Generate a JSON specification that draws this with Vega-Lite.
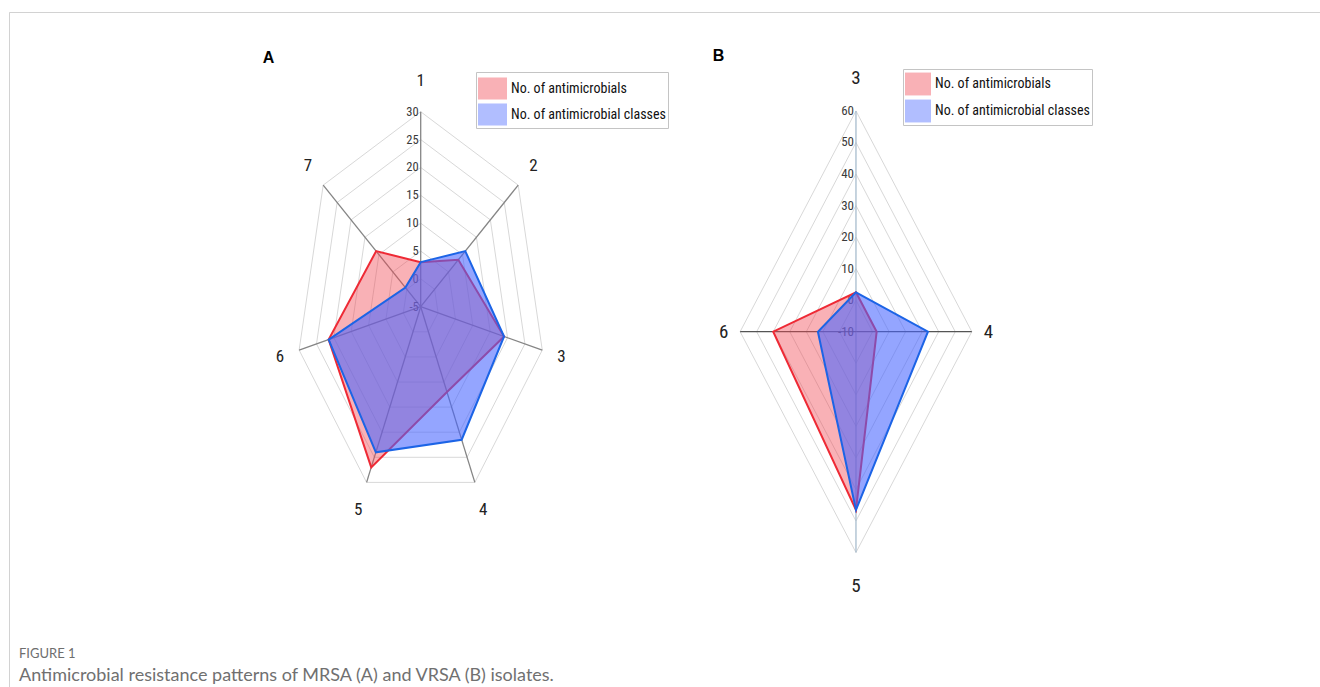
{
  "$schema": "https://vega.github.io/schema/vega-lite/v6.json",
  "width": 1311,
  "height": 675,
  "autosize": "none",
  "padding": {"left": 9, "top": 12, "right": 0, "bottom": 0},
  "background": "white",
  "config": {
    "view": {"stroke": "#d2d2d2", "strokeWidth": 1, "strokeDash": [1311, 1986, 675]}
  },
  "title": {
    "text": "FIGURE 1",
    "subtitle": "Antimicrobial resistance patterns of MRSA (A) and VRSA (B) isolates.",
    "orient": "bottom",
    "anchor": "start",
    "frame": "group",
    "offset": -39,
    "dx": 10,
    "font": "Lato",
    "fontSize": 13,
    "fontWeight": "normal",
    "color": "#6e6e6e",
    "subtitleFont": "Lato",
    "subtitleFontSize": 18,
    "subtitleColor": "#707070",
    "subtitlePadding": 6
  },
  "datasets": {
    "polyA": [
      {"series": "No. of antimicrobials", "k": 1, "value": 3},
      {"series": "No. of antimicrobials", "k": 2, "value": 8.5},
      {"series": "No. of antimicrobials", "k": 3, "value": 19},
      {"series": "No. of antimicrobials", "k": 4, "value": 12},
      {"series": "No. of antimicrobials", "k": 5, "value": 27},
      {"series": "No. of antimicrobials", "k": 6, "value": 21.5},
      {"series": "No. of antimicrobials", "k": 7, "value": 11},
      {"series": "No. of antimicrobial classes", "k": 1, "value": 3},
      {"series": "No. of antimicrobial classes", "k": 2, "value": 11},
      {"series": "No. of antimicrobial classes", "k": 3, "value": 19},
      {"series": "No. of antimicrobial classes", "k": 4, "value": 21.5},
      {"series": "No. of antimicrobial classes", "k": 5, "value": 24},
      {"series": "No. of antimicrobial classes", "k": 6, "value": 21.5},
      {"series": "No. of antimicrobial classes", "k": 7, "value": 0.5}
    ],
    "axesA": [
      {"k": 1, "name": "1"}, {"k": 2, "name": "2"}, {"k": 3, "name": "3"}, {"k": 4, "name": "4"},
      {"k": 5, "name": "5"}, {"k": 6, "name": "6"}, {"k": 7, "name": "7"}
    ],
    "ringsA": [
      {"level": -5, "k": [1, 2, 3, 4, 5, 6, 7]},
      {"level": 0, "k": [1, 2, 3, 4, 5, 6, 7]},
      {"level": 5, "k": [1, 2, 3, 4, 5, 6, 7]},
      {"level": 10, "k": [1, 2, 3, 4, 5, 6, 7]},
      {"level": 15, "k": [1, 2, 3, 4, 5, 6, 7]},
      {"level": 20, "k": [1, 2, 3, 4, 5, 6, 7]},
      {"level": 25, "k": [1, 2, 3, 4, 5, 6, 7]},
      {"level": 30, "k": [1, 2, 3, 4, 5, 6, 7]}
    ],
    "polyB": [
      {"series": "No. of antimicrobials", "k": 3, "value": 2.5},
      {"series": "No. of antimicrobials", "k": 4, "value": 2.5},
      {"series": "No. of antimicrobials", "k": 5, "value": 46.5},
      {"series": "No. of antimicrobials", "k": 6, "value": 40},
      {"series": "No. of antimicrobial classes", "k": 3, "value": 2.5},
      {"series": "No. of antimicrobial classes", "k": 4, "value": 33.5},
      {"series": "No. of antimicrobial classes", "k": 5, "value": 46.5},
      {"series": "No. of antimicrobial classes", "k": 6, "value": 13}
    ],
    "axesB": [
      {"k": 3, "name": "3"}, {"k": 4, "name": "4"}, {"k": 5, "name": "5"}, {"k": 6, "name": "6"}
    ],
    "ringsB": [
      {"level": -10, "k": [3, 4, 5, 6]},
      {"level": 0, "k": [3, 4, 5, 6]},
      {"level": 10, "k": [3, 4, 5, 6]},
      {"level": 20, "k": [3, 4, 5, 6]},
      {"level": 30, "k": [3, 4, 5, 6]},
      {"level": 40, "k": [3, 4, 5, 6]},
      {"level": 50, "k": [3, 4, 5, 6]},
      {"level": 60, "k": [3, 4, 5, 6]}
    ]
  },
  "layer": [
    {
      "encoding": {
        "x": {
          "field": "px", "type": "quantitative",
          "scale": {"domain": [-115.55, 252.4], "nice": false, "zero": false},
          "axis": {"orient": "top", "domain": false, "ticks": false, "labels": false, "grid": false,
            "title": "A", "titleX": 259, "titleY": 45, "titleAlign": "center", "titleBaseline": "middle",
            "titleFont": "Liberation Sans", "titleFontSize": 16, "titleFontWeight": "bold", "titleColor": "#000000"}
        },
        "y": {
          "field": "py", "type": "quantitative",
          "scale": {"domain": [-68.26, 52.9], "nice": false, "zero": false},
          "axis": null
        }
      },
      "layer": [
        {
          "data": {"name": "ringsA"},
          "transform": [
            {"filter": "datum.level > -5"},
            {"flatten": ["k"]},
            {"calculate": "2*PI*(datum.k-1)/7", "as": "theta"},
            {"calculate": "(datum.level+5)*sin(datum.theta)", "as": "px"},
            {"calculate": "(datum.level+5)*cos(datum.theta)", "as": "py"}
          ],
          "mark": {"type": "line", "interpolate": "linear-closed", "stroke": "#d8d8d8", "strokeWidth": 1},
          "encoding": {"detail": {"field": "level", "type": "nominal"}, "order": {"field": "k", "type": "quantitative"}}
        },
        {
          "data": {"name": "axesA"},
          "transform": [
            {"calculate": "2*PI*(datum.k-1)/7", "as": "theta"},
            {"calculate": "35*sin(datum.theta)", "as": "px"},
            {"calculate": "35*cos(datum.theta)", "as": "py"},
            {"calculate": "0", "as": "cx"},
            {"calculate": "0", "as": "cy"}
          ],
          "mark": {"type": "rule", "stroke": "#858585", "strokeWidth": 1.3},
          "encoding": {"x2": {"field": "cx"}, "y2": {"field": "cy"}}
        },
        {
          "data": {"name": "ringsA"},
          "transform": [
            {"calculate": "datum.level+5", "as": "py"},
            {"calculate": "0", "as": "px"}
          ],
          "mark": {"type": "text", "align": "right", "baseline": "middle", "dx": -2,
            "font": "Liberation Sans Narrow, Roboto Condensed, Arial Narrow, Roboto, sans-serif", "fontSize": 12.5, "fill": "#3a3a3a"},
          "encoding": {"text": {"field": "level", "type": "nominal"}}
        },
        {
          "data": {"name": "axesA"},
          "transform": [
            {"calculate": "2*PI*(datum.k-1)/7", "as": "theta"},
            {"calculate": "40.5*sin(datum.theta)", "as": "px"},
            {"calculate": "40.5*cos(datum.theta)", "as": "py"}
          ],
          "mark": {"type": "text", "align": "center", "baseline": "middle",
            "font": "Liberation Sans Narrow, Roboto Condensed, Arial Narrow, Roboto, sans-serif", "fontSize": 17, "fill": "#222222"},
          "encoding": {"text": {"field": "name", "type": "nominal"}}
        },
        {
          "data": {"name": "polyA"},
          "transform": [
            {"filter": "datum.series == 'No. of antimicrobials'"},
            {"calculate": "2*PI*(datum.k-1)/7", "as": "theta"},
            {"calculate": "(datum.value+5)*sin(datum.theta)", "as": "px"},
            {"calculate": "(datum.value+5)*cos(datum.theta)", "as": "py"}
          ],
          "mark": {"type": "line", "interpolate": "linear-closed", "stroke": "#ee2a35", "strokeWidth": 2, "fillOpacity": 0.42},
          "encoding": {
            "order": {"field": "k", "type": "quantitative"},
            "fill": {
              "field": "series", "type": "nominal",
              "scale": {"domain": ["No. of antimicrobials", "No. of antimicrobial classes"], "range": ["#f04650", "#4664ff"]},
              "legend": {"orient": "none", "legendX": 467, "legendY": 60, "title": null,
                "symbolType": "M-1,-0.76H1V0.76H-1Z", "symbolSize": 841, "symbolStrokeWidth": 0, "symbolOpacity": 0.42,
                "labelFont": "Liberation Sans Narrow, Roboto Condensed, Arial Narrow, Roboto, sans-serif", "labelFontSize": 14, "labelColor": "#111111", "labelOffset": 4, "labelLimit": 400,
                "strokeColor": "#c4c4c4", "fillColor": "#ffffff", "padding": 2, "rowPadding": -11}
            }
          }
        },
        {
          "data": {"name": "polyA"},
          "transform": [
            {"filter": "datum.series == 'No. of antimicrobial classes'"},
            {"calculate": "2*PI*(datum.k-1)/7", "as": "theta"},
            {"calculate": "(datum.value+5)*sin(datum.theta)", "as": "px"},
            {"calculate": "(datum.value+5)*cos(datum.theta)", "as": "py"}
          ],
          "mark": {"type": "line", "interpolate": "linear-closed", "stroke": "#1c64e6", "strokeWidth": 2, "fillOpacity": 0.58},
          "encoding": {
            "order": {"field": "k", "type": "quantitative"},
            "fill": {
              "field": "series", "type": "nominal",
              "scale": {"domain": ["No. of antimicrobials", "No. of antimicrobial classes"], "range": ["#f04650", "#4664ff"]},
              "legend": {"orient": "none", "legendX": 467, "legendY": 60, "title": null,
                "symbolType": "M-1,-0.76H1V0.76H-1Z", "symbolSize": 841, "symbolStrokeWidth": 0, "symbolOpacity": 0.42,
                "labelFont": "Liberation Sans Narrow, Roboto Condensed, Arial Narrow, Roboto, sans-serif", "labelFontSize": 14, "labelColor": "#111111", "labelOffset": 4, "labelLimit": 400,
                "strokeColor": "#c4c4c4", "fillColor": "#ffffff", "padding": 2, "rowPadding": -11}
            }
          }
        }
      ]
    },
    {
      "encoding": {
        "x": {
          "field": "px", "type": "quantitative",
          "scale": {"domain": [-511.8, 280.4], "nice": false, "zero": false},
          "axis": {"orient": "bottom", "domain": false, "ticks": false, "labels": false, "grid": false,
            "title": "B", "titleX": 709, "titleY": -632, "titleAlign": "center", "titleBaseline": "middle",
            "titleFont": "Liberation Sans", "titleFontSize": 16, "titleFontWeight": "bold", "titleColor": "#000000"}
        },
        "y": {
          "field": "py", "type": "quantitative",
          "scale": {"domain": [-112.65, 101.36], "nice": false, "zero": false},
          "axis": null
        }
      },
      "layer": [
        {
          "data": {"name": "ringsB"},
          "transform": [
            {"filter": "datum.level > -10"},
            {"flatten": ["k"]},
            {"calculate": "PI/2*(datum.k-3)", "as": "theta"},
            {"calculate": "(datum.level+10)*sin(datum.theta)", "as": "px"},
            {"calculate": "(datum.level+10)*cos(datum.theta)", "as": "py"}
          ],
          "mark": {"type": "line", "interpolate": "linear-closed", "stroke": "#d8d8d8", "strokeWidth": 1},
          "encoding": {"detail": {"field": "level", "type": "nominal"}, "order": {"field": "k", "type": "quantitative"}}
        },
        {
          "data": {"name": "axesB"},
          "transform": [
            {"calculate": "PI/2*(datum.k-3)", "as": "theta"},
            {"calculate": "70*sin(datum.theta)", "as": "px"},
            {"calculate": "70*cos(datum.theta)", "as": "py"},
            {"calculate": "0", "as": "cx"},
            {"calculate": "0", "as": "cy"}
          ],
          "mark": {"type": "rule", "strokeWidth": 1.3},
          "encoding": {
            "x2": {"field": "cx"}, "y2": {"field": "cy"},
            "stroke": {"condition": {"test": "datum.k == 4 || datum.k == 6", "value": "#555555"}, "value": "#a8bccd"}
          }
        },
        {
          "data": {"name": "ringsB"},
          "transform": [
            {"calculate": "datum.level+10", "as": "py"},
            {"calculate": "0", "as": "px"}
          ],
          "mark": {"type": "text", "align": "right", "baseline": "middle", "dx": -2,
            "font": "Liberation Sans Narrow, Roboto Condensed, Arial Narrow, Roboto, sans-serif", "fontSize": 13, "fill": "#3a3a3a"},
          "encoding": {"text": {"field": "level", "type": "nominal"}}
        },
        {
          "data": {"name": "axesB"},
          "transform": [
            {"calculate": "PI/2*(datum.k-3)", "as": "theta"},
            {"calculate": "80*sin(datum.theta)", "as": "px"},
            {"calculate": "80.5*cos(datum.theta)", "as": "py"}
          ],
          "mark": {"type": "text", "align": "center", "baseline": "middle",
            "font": "Liberation Sans Narrow, Roboto Condensed, Arial Narrow, Roboto, sans-serif", "fontSize": 19, "fill": "#222222"},
          "encoding": {"text": {"field": "name", "type": "nominal"}}
        },
        {
          "data": {"name": "polyB"},
          "transform": [
            {"filter": "datum.series == 'No. of antimicrobials'"},
            {"calculate": "PI/2*(datum.k-3)", "as": "theta"},
            {"calculate": "(datum.value+10)*sin(datum.theta)", "as": "px"},
            {"calculate": "(datum.value+10)*cos(datum.theta)", "as": "py"}
          ],
          "mark": {"type": "line", "interpolate": "linear-closed", "stroke": "#ee2a35", "strokeWidth": 2, "fillOpacity": 0.42},
          "encoding": {
            "order": {"field": "k", "type": "quantitative"},
            "fill": {
              "field": "series", "type": "nominal",
              "scale": {"domain": ["No. of antimicrobials", "No. of antimicrobial classes"], "range": ["#f04650", "#4664ff"]},
              "legend": {"orient": "none", "legendX": 894, "legendY": 57, "title": null,
                "symbolType": "M-1,-0.88H1V0.88H-1Z", "symbolSize": 676, "symbolStrokeWidth": 0, "symbolOpacity": 0.42,
                "labelFont": "Liberation Sans Narrow, Roboto Condensed, Arial Narrow, Roboto, sans-serif", "labelFontSize": 14, "labelColor": "#111111", "labelOffset": 4, "labelLimit": 400,
                "strokeColor": "#c4c4c4", "fillColor": "#ffffff", "padding": 2, "rowPadding": 2}
            }
          }
        },
        {
          "data": {"name": "polyB"},
          "transform": [
            {"filter": "datum.series == 'No. of antimicrobial classes'"},
            {"calculate": "PI/2*(datum.k-3)", "as": "theta"},
            {"calculate": "(datum.value+10)*sin(datum.theta)", "as": "px"},
            {"calculate": "(datum.value+10)*cos(datum.theta)", "as": "py"}
          ],
          "mark": {"type": "line", "interpolate": "linear-closed", "stroke": "#1c64e6", "strokeWidth": 2, "fillOpacity": 0.58},
          "encoding": {
            "order": {"field": "k", "type": "quantitative"},
            "fill": {
              "field": "series", "type": "nominal",
              "scale": {"domain": ["No. of antimicrobials", "No. of antimicrobial classes"], "range": ["#f04650", "#4664ff"]},
              "legend": {"orient": "none", "legendX": 894, "legendY": 57, "title": null,
                "symbolType": "M-1,-0.88H1V0.88H-1Z", "symbolSize": 676, "symbolStrokeWidth": 0, "symbolOpacity": 0.42,
                "labelFont": "Liberation Sans Narrow, Roboto Condensed, Arial Narrow, Roboto, sans-serif", "labelFontSize": 14, "labelColor": "#111111", "labelOffset": 4, "labelLimit": 400,
                "strokeColor": "#c4c4c4", "fillColor": "#ffffff", "padding": 2, "rowPadding": 2}
            }
          }
        }
      ]
    }
  ],
  "resolve": {
    "scale": {"x": "independent", "y": "independent", "fill": "independent"},
    "axis": {"x": "independent", "y": "independent"},
    "legend": {"fill": "independent"}
  }
}
